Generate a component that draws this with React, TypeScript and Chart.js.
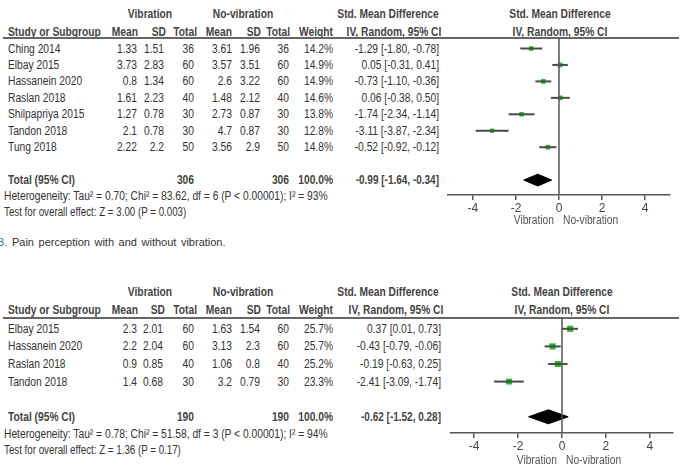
import React, { useEffect, useRef } from "react";
import { Chart, registerables } from "chart.js";

Chart.register(...registerables);

const FONT = '"Liberation Sans", Arial, sans-serif';
const NARROW = 0.82;

// ---------- Panel A: data ----------
const studiesA = ["Ching 2014", "Elbay 2015", "Hassanein 2020", "Raslan 2018", "Shilpapriya 2015", "Tandon 2018", "Tung 2018"];
const vibMeanA = [1.33, 3.73, 0.8, 1.61, 1.27, 2.1, 2.22];
const vibSDA = [1.51, 2.83, 1.34, 2.23, 0.78, 0.78, 2.2];
const vibNA = [36, 60, 60, 40, 30, 30, 50];
const noMeanA = [3.61, 3.57, 2.6, 1.48, 2.73, 4.7, 3.56];
const noSDA = [1.96, 3.51, 3.22, 2.12, 0.87, 0.87, 2.9];
const noNA = [36, 60, 60, 40, 30, 30, 50];
const weightA = [14.2, 14.9, 14.9, 14.6, 13.8, 12.8, 14.8];
const smdA = [-1.29, 0.05, -0.73, 0.06, -1.74, -3.11, -0.52];
const loA = [-1.8, -0.31, -1.1, -0.38, -2.34, -3.87, -0.92];
const hiA = [-0.78, 0.41, -0.36, 0.5, -1.14, -2.34, -0.12];
const totalA = [-0.99, -1.64, -0.34];
const totalNA = [306, 306];
const hetA = "Heterogeneity: Tau\u00b2 = 0.70; Chi\u00b2 = 83.62, df = 6 (P < 0.00001); I\u00b2 = 93%";
const testA = "Test for overall effect: Z = 3.00 (P = 0.003)";

// ---------- Panel B: data ----------
const studiesB = ["Elbay 2015", "Hassanein 2020", "Raslan 2018", "Tandon 2018"];
const vibMeanB = [2.3, 2.2, 0.9, 1.4];
const vibSDB = [2.01, 2.04, 0.85, 0.68];
const vibNB = [60, 60, 40, 30];
const noMeanB = [1.63, 3.13, 1.06, 3.2];
const noSDB = [1.54, 2.3, 0.8, 0.79];
const noNB = [60, 60, 40, 30];
const weightB = [25.7, 25.7, 25.2, 23.3];
const smdB = [0.37, -0.43, -0.19, -2.41];
const loB = [0.01, -0.79, -0.63, -3.09];
const hiB = [0.73, -0.06, 0.25, -1.74];
const totalB = [-0.62, -1.52, 0.28];
const totalNB = [190, 190];
const hetB = "Heterogeneity: Tau\u00b2 = 0.78; Chi\u00b2 = 51.58, df = 3 (P < 0.00001); I\u00b2 = 94%";
const testB = "Test for overall effect: Z = 1.36 (P = 0.17)";

const xTicks = [-4, -2, 0, 2, 4];
const caption = "Pain perception with and without vibration.";

const dataA = { studies: studiesA, vibMean: vibMeanA, vibSD: vibSDA, vibN: vibNA, noMean: noMeanA, noSD: noSDA, noN: noNA, weight: weightA, smd: smdA, lo: loA, hi: hiA, total: totalA, totalN: totalNA, het: hetA, test: testA };
const dataB = { studies: studiesB, vibMean: vibMeanB, vibSD: vibSDB, vibN: vibNB, noMean: noMeanB, noSD: noSDB, noN: noNB, weight: weightB, smd: smdB, lo: loB, hi: hiB, total: totalB, totalN: totalNB, het: hetB, test: testB };

// ---------- layout ----------
const layoutA = {
  groupY: 14, headY: 32, lineY: 38, rowStart: 48.5, rowStep: 16.45, totalIdx: 8, hetY: 196, testY: 212,
  cols: [137, 164, 194, 232, 260, 289, 333], smdRight: 439, smdHeadC: 388, ivHeadC: 394, plotHeadC: 560,
  canvas: { left: 440, top: 30, w: 242, h: 200 }, pad: { left: 8, right: 12, top: 8, bottom: 5 },
  xMin: -5.16, xMax: 5.16, diamondH: 0.36, labelsY: 220, zeroX: 559,
};
const layoutB = {
  groupY: 292, headY: 310, lineY: 318, rowStart: 328.8, rowStep: 17.6, totalIdx: 5, hetY: 434, testY: 450,
  cols: [137, 163, 194, 232, 260, 289, 333], smdRight: 441, smdHeadC: 388, ivHeadC: 396, plotHeadC: 562,
  canvas: { left: 440, top: 310, w: 242, h: 158 }, pad: { left: 11, right: 9, top: 8, bottom: 5 },
  xMin: -5.05, xMax: 5.05, diamondH: 0.4, labelsY: 460, zeroX: 562,
};

function T({ x, y, a = "l", b = false, s = 12.5, c = "#333", k = NARROW, children }: any) {
  const w = 400;
  const left = a === "l" ? x : a === "r" ? x - w : x - w / 2;
  const origin = a === "l" ? "left center" : a === "r" ? "right center" : "center center";
  return (
    <div
      style={{
        position: "absolute", left, top: y - 8, width: w, height: 16, lineHeight: "16px",
        textAlign: a === "l" ? "left" : a === "r" ? "right" : "center",
        fontFamily: FONT, fontSize: s, fontWeight: b ? 700 : 400, color: c, whiteSpace: "nowrap",
        transform: `scaleX(${k})`, transformOrigin: origin,
      }}
    >
      {children}
    </div>
  );
}

function ForestChart({ d, L }: any) {
  const ref = useRef<HTMLCanvasElement>(null);
  useEffect(() => {
    if (!ref.current) return;
    const yMin = (L.lineY - L.rowStart) / L.rowStep;
    const axisY = L.canvas.top + L.canvas.h - L.pad.bottom - 30;
    const yMax = (axisY - L.rowStart) / L.rowStep;
    const datasets: any[] = [];
    datasets.push({
      data: [{ x: 0, y: yMin }, { x: 0, y: yMax }], showLine: true,
      borderColor: "#555", borderWidth: 1.5, pointRadius: 0,
    });
    d.studies.forEach((_: string, i: number) => {
      datasets.push({
        data: [{ x: d.lo[i], y: i }, { x: d.hi[i], y: i }], showLine: true,
        borderColor: "#4a4a4a", borderWidth: 2, pointRadius: 0,
      });
    });
    datasets.push({
      data: d.smd.map((v: number, i: number) => ({ x: v, y: i })),
      pointStyle: "rect",
      pointRadius: d.weight.map((w: number) => Math.sqrt(w) * 0.85),
      backgroundColor: "#1db81d", borderColor: "#1db81d", borderWidth: 0, showLine: false,
    });
    const [t, tl, th] = d.total;
    const ty = L.totalIdx;
    const h = L.diamondH;
    datasets.push({
      data: [{ x: tl, y: ty }, { x: t, y: ty - h }, { x: th, y: ty }, { x: t, y: ty + h }, { x: tl, y: ty }],
      showLine: true, fill: "shape", backgroundColor: "#000", borderColor: "#000", borderWidth: 1, pointRadius: 0, tension: 0,
    });
    const chart = new Chart(ref.current, {
      type: "scatter",
      data: { datasets },
      options: {
        animation: false, responsive: false, maintainAspectRatio: false, events: [],
        layout: { padding: L.pad },
        plugins: { legend: { display: false }, tooltip: { enabled: false } },
        scales: {
          x: {
            type: "linear", min: L.xMin, max: L.xMax,
            afterBuildTicks: (s: any) => { s.ticks = xTicks.map((v) => ({ value: v })); },
            afterFit: (s: any) => { s.height = 30; },
            ticks: { color: "#444", font: { family: FONT, size: 12 }, padding: 1, autoSkip: false, maxRotation: 0 },
            grid: { drawOnChartArea: false, drawTicks: true, tickLength: 5, color: "#555", lineWidth: 1.5 },
            border: { display: true, color: "#555", width: 1.5 },
          },
          y: { type: "linear", display: false, reverse: true, min: yMin, max: yMax },
        },
      } as any,
    });
    return () => chart.destroy();
  }, [d, L]);
  return (
    <canvas
      ref={ref}
      width={L.canvas.w}
      height={L.canvas.h}
      style={{ position: "absolute", left: L.canvas.left, top: L.canvas.top, width: L.canvas.w, height: L.canvas.h }}
    />
  );
}

function fmtCI(v: number, lo: number, hi: number) {
  return `${v.toFixed(2)} [${lo.toFixed(2)}, ${hi.toFixed(2)}]`;
}

function Panel({ d, L }: any) {
  const rowY = (i: number) => L.rowStart + L.rowStep * i;
  const C = L.cols;
  const hc = "#444";
  const hs = 12.5;
  return (
    <>
      <T x={150} y={L.groupY} a="c" b s={hs} c={hc}>Vibration</T>
      <T x={243} y={L.groupY} a="c" b s={hs} c={hc}>No-vibration</T>
      <T x={L.smdHeadC} y={L.groupY} a="c" b s={hs} c={hc}>Std. Mean Difference</T>
      <T x={L.plotHeadC} y={L.groupY} a="c" b s={hs} c={hc}>Std. Mean Difference</T>
      <T x={8} y={L.headY} b s={hs} c={hc}>Study or Subgroup</T>
      <T x={C[0] + 1} y={L.headY} a="r" b s={hs} c={hc}>Mean</T>
      <T x={C[1] + 2} y={L.headY} a="r" b s={hs} c={hc}>SD</T>
      <T x={C[2] + 3} y={L.headY} a="r" b s={hs} c={hc}>Total</T>
      <T x={C[3]} y={L.headY} a="r" b s={hs} c={hc}>Mean</T>
      <T x={C[4] + 1} y={L.headY} a="r" b s={hs} c={hc}>SD</T>
      <T x={C[5] + 1} y={L.headY} a="r" b s={hs} c={hc}>Total</T>
      <T x={C[6]} y={L.headY} a="r" b s={hs} c={hc}>Weight</T>
      <T x={L.ivHeadC} y={L.headY} a="c" b s={hs} c={hc}>IV, Random, 95% CI</T>
      <T x={L.plotHeadC} y={L.headY} a="c" b s={hs} c={hc}>IV, Random, 95% CI</T>
      <div style={{ position: "absolute", left: 3, top: L.lineY - 0.75, width: 676, height: 1.5, background: "#666" }} />
      {d.studies.map((s: string, i: number) => (
        <React.Fragment key={s}>
          <T x={8} y={rowY(i)}>{s}</T>
          <T x={C[0]} y={rowY(i)} a="r">{String(d.vibMean[i])}</T>
          <T x={C[1]} y={rowY(i)} a="r">{String(d.vibSD[i])}</T>
          <T x={C[2]} y={rowY(i)} a="r">{String(d.vibN[i])}</T>
          <T x={C[3]} y={rowY(i)} a="r">{String(d.noMean[i])}</T>
          <T x={C[4]} y={rowY(i)} a="r">{String(d.noSD[i])}</T>
          <T x={C[5]} y={rowY(i)} a="r">{String(d.noN[i])}</T>
          <T x={C[6]} y={rowY(i)} a="r">{d.weight[i].toFixed(1) + "%"}</T>
          <T x={L.smdRight} y={rowY(i)} a="r">{fmtCI(d.smd[i], d.lo[i], d.hi[i])}</T>
        </React.Fragment>
      ))}
      <T x={8} y={rowY(L.totalIdx)} b c={hc} s={12.5}>Total (95% CI)</T>
      <T x={C[2]} y={rowY(L.totalIdx)} a="r" b c={hc} s={12.5}>{String(d.totalN[0])}</T>
      <T x={C[5]} y={rowY(L.totalIdx)} a="r" b c={hc} s={12.5}>{String(d.totalN[1])}</T>
      <T x={C[6]} y={rowY(L.totalIdx)} a="r" b c={hc} s={12.5}>100.0%</T>
      <T x={L.smdRight} y={rowY(L.totalIdx)} a="r" b c={hc} s={12.2}>{fmtCI(d.total[0], d.total[1], d.total[2])}</T>
      <T x={4} y={L.hetY}>{d.het}</T>
      <T x={4} y={L.testY} k={0.78}>{d.test}</T>
      <ForestChart d={d} L={L} />
      <T x={L.zeroX - 5} y={L.labelsY} a="r" c="#555">Vibration</T>
      <T x={L.zeroX + 4} y={L.labelsY} c="#555">No-vibration</T>
    </>
  );
}

export default function App() {
  return (
    <div style={{ position: "absolute", left: 0, top: 0, width: 682, height: 468, overflow: "hidden", background: "#fff" }}>
      <Panel d={dataA} L={layoutA} />
      <div
        style={{
          position: "absolute", left: -3, top: 234, height: 16, lineHeight: "16px", whiteSpace: "nowrap",
          fontFamily: FONT, fontSize: 11, color: "#333", wordSpacing: 1.5,
        }}
      >
        <span style={{ color: "#3b6fb5" }}>B.</span> {caption}
      </div>
      <Panel d={dataB} L={layoutB} />
    </div>
  );
}
